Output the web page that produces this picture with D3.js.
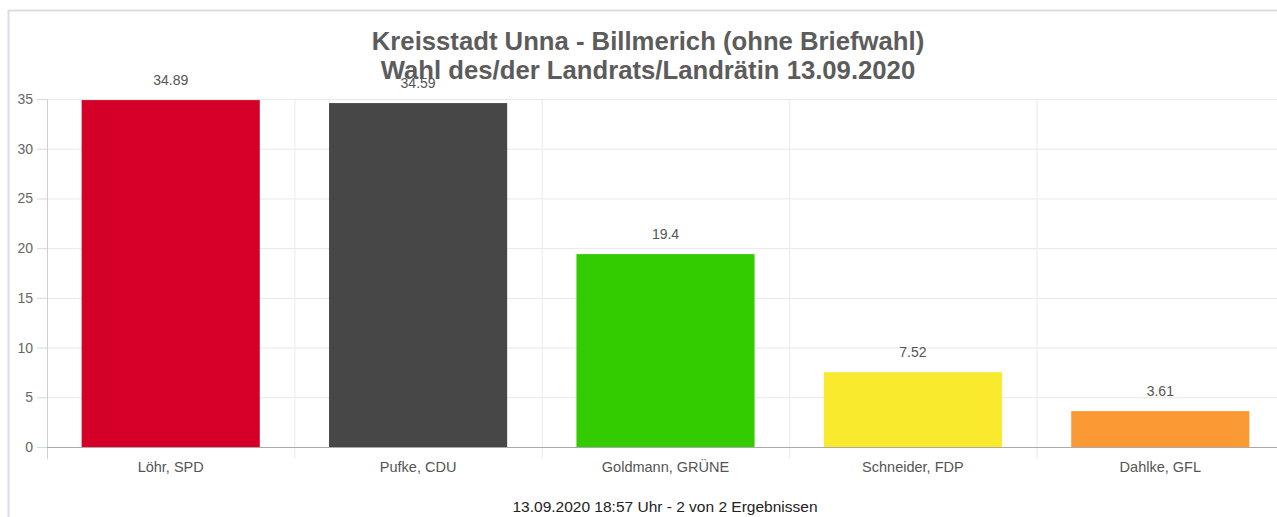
<!DOCTYPE html>
<html>
<head>
<meta charset="utf-8">
<script src="https://cdn.jsdelivr.net/npm/d3@7"></script>
<style>
  body { margin: 0; background: #fff; }
  svg { display: block; font-family: "Liberation Sans", Arial, sans-serif; }
</style>
</head>
<body>
<div id="chart"></div>
<script>
const candidates = ["Löhr, SPD", "Pufke, CDU", "Goldmann, GRÜNE", "Schneider, FDP", "Dahlke, GFL"];
const shares = [34.89, 34.59, 19.4, 7.52, 3.61];
const colors = ["#d50027", "#474747", "#33cc00", "#f9ea2e", "#fb9a35"];
const yTicks = [0, 5, 10, 15, 20, 25, 30, 35];
const titleLines = ["Kreisstadt Unna - Billmerich (ohne Briefwahl)", "Wahl des/der Landrats/Landrätin 13.09.2020"];
const footer = "13.09.2020 18:57 Uhr - 2 von 2 Ergebnissen";

const W = 1277, H = 517;
const m = { top: 99, left: 47, bottom: 447, right: 1284 };

const svg = d3.select("#chart").append("svg")
  .attr("width", W)
  .attr("height", H);

// frame
svg.append("path")
  .attr("d", `M8.5,${H} V10.5 H${W}`)
  .attr("fill", "none")
  .attr("stroke", "#dcdde2")
  .attr("stroke-width", 2);

const x = d3.scaleBand()
  .domain(candidates)
  .range([m.left, m.right])
  .paddingInner(0.28)
  .paddingOuter(0.14);

const y = d3.scaleLinear()
  .domain([0, 35])
  .range([m.bottom, m.top]);

// horizontal grid
svg.append("g")
  .selectAll("line")
  .data(yTicks)
  .join("line")
  .attr("x1", m.left).attr("x2", m.right)
  .attr("y1", d => y(d) + 0.5).attr("y2", d => y(d) + 0.5)
  .attr("stroke", "#e8e8e8");

// vertical grid at band boundaries
const bounds = d3.range(candidates.length + 1).map(i => m.left + i * (m.right - m.left) / candidates.length);
svg.append("g")
  .selectAll("line")
  .data(bounds)
  .join("line")
  .attr("x1", d => d + 0.5).attr("x2", d => d + 0.5)
  .attr("y1", m.top).attr("y2", m.bottom + 12)
  .attr("stroke", (d, i) => i === 0 ? "#cfcfcf" : "#ebebeb");

// y axis
const yAxis = svg.append("g")
  .attr("transform", `translate(${m.left},0)`)
  .call(d3.axisLeft(y).tickValues(yTicks).tickSize(10).tickPadding(4));
yAxis.select(".domain").remove();
yAxis.selectAll(".tick line").attr("stroke", "#d8d8d8");
yAxis.selectAll(".tick text")
  .attr("fill", "#666")
  .attr("font-size", 14)
  .attr("font-family", "Liberation Sans, Arial, sans-serif");

// bars
svg.append("g")
  .selectAll("rect")
  .data(shares)
  .join("rect")
  .attr("x", (d, i) => x(candidates[i]))
  .attr("width", x.bandwidth())
  .attr("y", d => y(d))
  .attr("height", d => y(0) - y(d))
  .attr("fill", (d, i) => colors[i]);

// x axis line
svg.append("line")
  .attr("x1", m.left).attr("x2", m.right)
  .attr("y1", m.bottom + 0.5).attr("y2", m.bottom + 0.5)
  .attr("stroke", "#aaa");

// category labels
svg.append("g")
  .selectAll("text")
  .data(candidates)
  .join("text")
  .attr("x", d => x(d) + x.bandwidth() / 2)
  .attr("y", m.bottom + 25)
  .attr("text-anchor", "middle")
  .attr("fill", "#555")
  .attr("font-size", 14.5)
  .text(d => d);

// titles
svg.append("g")
  .selectAll("text")
  .data(titleLines)
  .join("text")
  .attr("x", 648)
  .attr("y", (d, i) => 50 + i * 29)
  .attr("text-anchor", "middle")
  .attr("fill", "#5c5c5c")
  .attr("font-size", 25.7)
  .attr("font-weight", "bold")
  .text(d => d);

// value labels
svg.append("g")
  .selectAll("text")
  .data(shares)
  .join("text")
  .attr("x", (d, i) => x(candidates[i]) + x.bandwidth() / 2)
  .attr("y", d => y(d) - 15)
  .attr("text-anchor", "middle")
  .attr("fill", "#555")
  .attr("font-size", 14)
  .text(d => d);

// footer
svg.append("text")
  .attr("x", 665)
  .attr("y", 512)
  .attr("text-anchor", "middle")
  .attr("fill", "#222")
  .attr("font-size", 15.5)
  .text(footer);
</script>
</body>
</html>
